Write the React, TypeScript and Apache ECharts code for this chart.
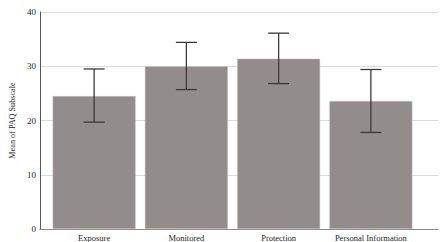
import React, { useEffect, useRef } from "react";
import * as echarts from "echarts";

const categories = ["Exposure", "Monitored", "Protection", "Personal Information"];
const means = [24.5, 30.0, 31.4, 23.6];
const ciLower = [19.7, 25.7, 26.8, 17.8];
const ciUpper = [29.5, 34.4, 36.1, 29.4];
const yTicks = { min: 0, max: 40, interval: 10 };

export default function App() {
  const ref = useRef<HTMLDivElement>(null);
  useEffect(() => {
    if (!ref.current) return;
    const chart = echarts.init(ref.current, undefined, { renderer: "svg" });
    const font = "'Liberation Serif', 'Times New Roman', serif";
    chart.setOption({
      animation: false,
      grid: [
        { left: 29, right: 2, top: 12, bottom: 13 },
        { left: 48, right: 23, top: 12, bottom: 13 },
      ],
      xAxis: [
        {
          gridIndex: 0, type: "value", min: 0, max: 1,
          axisLine: { show: true, lineStyle: { color: "#888", width: 1 } },
          axisTick: { show: false }, axisLabel: { show: false }, splitLine: { show: false },
        },
        {
          gridIndex: 1, type: "category", data: categories, boundaryGap: true,
          axisLine: { show: false }, axisTick: { show: false },
          axisLabel: { fontFamily: font, fontSize: 8.5, color: "#222", margin: 4, interval: 0 },
        },
      ],
      yAxis: [
        {
          gridIndex: 0, type: "value", min: yTicks.min, max: yTicks.max, interval: yTicks.interval,
          name: "Mean of PAQ Subscale", nameLocation: "middle", nameGap: 21, nameRotate: 90,
          nameTextStyle: { fontFamily: font, fontSize: 8.2, color: "#222" },
          axisLine: { show: true, lineStyle: { color: "#555", width: 1 } },
          axisTick: { show: false },
          axisLabel: { fontFamily: font, fontSize: 9, color: "#222", margin: 4 },
          splitLine: { show: true, lineStyle: { color: "#dadada", width: 1 } },
        },
        {
          gridIndex: 1, type: "value", min: yTicks.min, max: yTicks.max, show: false,
          splitLine: { show: false },
        },
      ],
      series: [
        {
          type: "bar", xAxisIndex: 1, yAxisIndex: 1, data: means,
          barCategoryGap: "10%",
          itemStyle: { color: "#928d8a", borderColor: "#c9c6c4", borderWidth: 0.5 },
        },
        {
          type: "custom", xAxisIndex: 1, yAxisIndex: 1,
          data: categories.map((_, i) => [i, ciLower[i], ciUpper[i]]),
          renderItem: (params: any, api: any) => {
            const x = api.value(0);
            const lo = api.coord([x, api.value(1)]);
            const hi = api.coord([x, api.value(2)]);
            const half = 10.5;
            const style = { stroke: "#3a3a3a", lineWidth: 1.3 };
            return {
              type: "group",
              children: [
                { type: "line", shape: { x1: hi[0], y1: hi[1], x2: lo[0], y2: lo[1] }, style },
                { type: "line", shape: { x1: hi[0] - half, y1: hi[1], x2: hi[0] + half, y2: hi[1] }, style },
                { type: "line", shape: { x1: lo[0] - half, y1: lo[1], x2: lo[0] + half, y2: lo[1] }, style },
              ],
            };
          },
          z: 5,
        },
      ],
    });
    return () => chart.dispose();
  }, []);
  return (
    <div
      ref={ref}
      style={{ position: "fixed", left: 0, top: 0, width: 440, height: 242, background: "#fff" }}
    />
  );
}
